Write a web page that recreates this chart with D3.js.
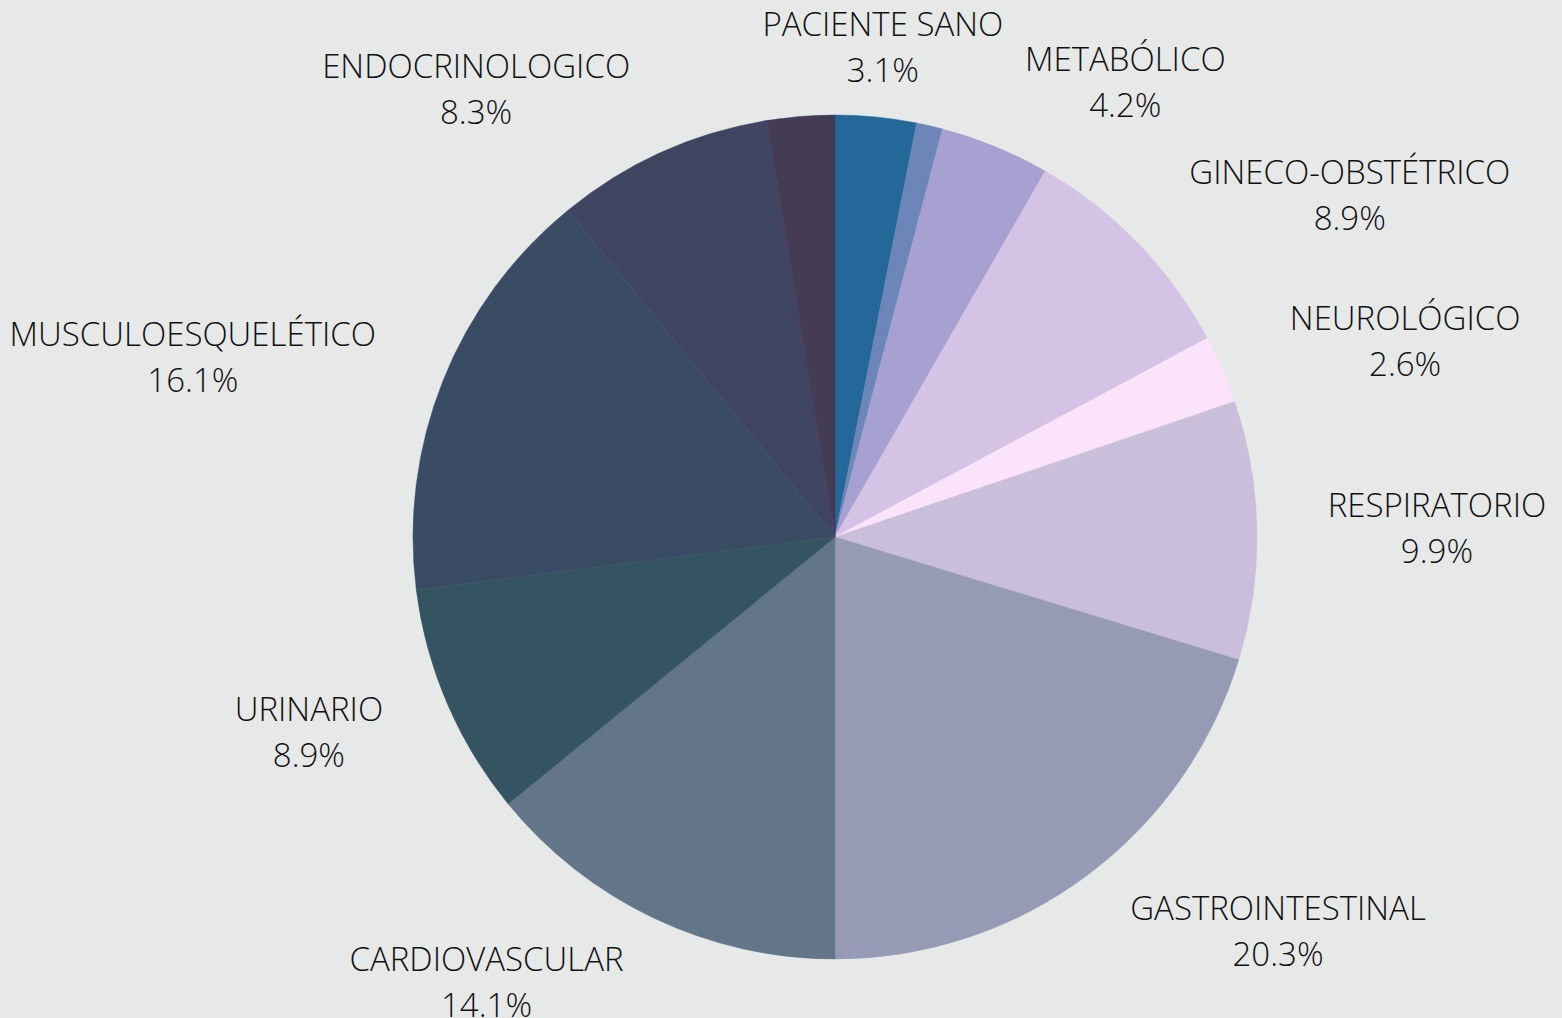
<!DOCTYPE html>
<html>
<head>
<meta charset="utf-8">
<script src="https://cdn.jsdelivr.net/npm/d3@7"></script>
<style>
  html, body { margin: 0; padding: 0; background: #e7e8e8; }
  svg { display: block; }
  .lbl { font-family: "Open Sans", sans-serif; font-weight: 300; font-size: 33px; fill: #111; }
</style>
</head>
<body>
<svg id="chart" width="1562" height="1018"></svg>
<script>
// ---- data ----
const categories = ["PACIENTE SANO", "", "METABÓLICO", "GINECO-OBSTÉTRICO", "NEUROLÓGICO",
  "RESPIRATORIO", "GASTROINTESTINAL", "CARDIOVASCULAR", "URINARIO",
  "MUSCULOESQUELÉTICO", "ENDOCRINOLOGICO", ""];
const values = [3.1, 1.0, 4.2, 8.9, 2.6, 9.9, 20.3, 14.1, 8.9, 16.1, 8.3, 2.6];
const colors = ["#236899", "#6c86b9", "#a6a1d0", "#d5c3e6", "#fbe4fb", "#c9bfdb",
  "#969ab5", "#637589", "#345461", "#3a4c63", "#3f4460", "#443b55"];

// ---- layout (label placement: angle shift in degrees, radius in px) ----
const labelShift = [0, 0, 10.2, 10.5, 4.4, 0, -11.8, 12.7, 2.9, -6.1, -14.4, 0];
const labelRadius = [492, 0, 540, 618, 603, 602, 593, 565, 561, 667, 574, 0];

const W = 1562, H = 1018;
const cx = 835, cy = 537, R = 422;

const svg = d3.select("#chart");
svg.append("rect").attr("width", W).attr("height", H).attr("fill", "#e7e8e8");

const data = categories.map((c, i) => ({ name: c, value: values[i], color: colors[i], i }));
const total = d3.sum(values);

const pie = d3.pie().value(d => d.value).sort(null);
const arcs = pie(data);
const arc = d3.arc().innerRadius(0).outerRadius(R);

const g = svg.append("g").attr("transform", `translate(${cx},${cy})`);

g.selectAll("path.slice")
  .data(arcs)
  .join("path")
  .attr("class", "slice")
  .attr("d", arc)
  .attr("fill", d => d.data.color)
  .attr("stroke", d => d.data.color)
  .attr("stroke-width", 0.5);

const fmt = v => d3.format(".1f")(v / total * 100) + "%";

const labeled = arcs.filter(d => d.data.name !== "");
const lg = g.selectAll("g.lab")
  .data(labeled)
  .join("g")
  .attr("class", "lab")
  .attr("transform", d => {
    const mid = (d.startAngle + d.endAngle) / 2 + labelShift[d.data.i] * Math.PI / 180;
    const r = labelRadius[d.data.i];
    return `translate(${r * Math.sin(mid)},${-r * Math.cos(mid)})`;
  });

lg.append("text")
  .attr("class", "lbl")
  .attr("text-anchor", "middle")
  .attr("y", -11)
  .text(d => d.data.name);

lg.append("text")
  .attr("class", "lbl")
  .attr("text-anchor", "middle")
  .attr("y", 35)
  .text(d => fmt(d.data.value));
</script>
</body>
</html>
